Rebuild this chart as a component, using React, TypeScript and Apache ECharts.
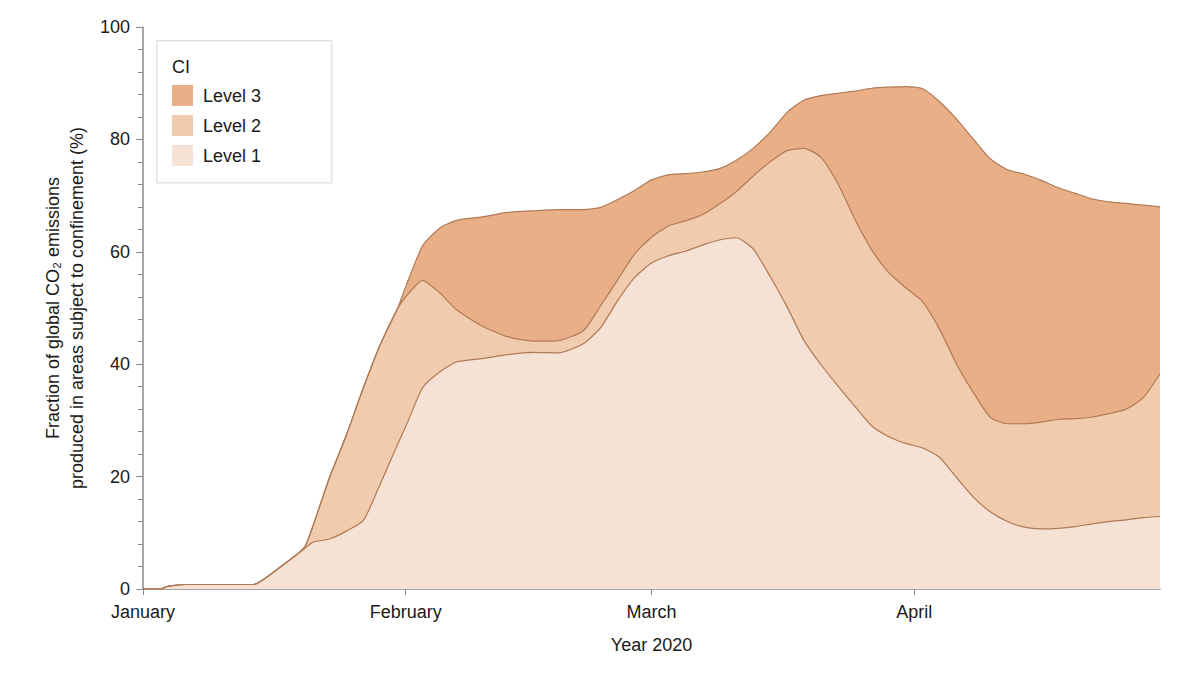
import React, { useEffect, useRef } from "react";
import * as echarts from "echarts";

// Sample dates (2020)
const dates: string[] = [
  "2020-01-01", "2020-01-03", "2020-01-04", "2020-01-06", "2020-01-14", "2020-01-17",
  "2020-01-20", "2020-01-21", "2020-01-23", "2020-01-25", "2020-01-27", "2020-01-29",
  "2020-01-31", "2020-02-01", "2020-02-03", "2020-02-05", "2020-02-07", "2020-02-10",
  "2020-02-13", "2020-02-16", "2020-02-19", "2020-02-22", "2020-02-24", "2020-02-26",
  "2020-02-28",
  "2020-03-01", "2020-03-03", "2020-03-05", "2020-03-07", "2020-03-09", "2020-03-11",
  "2020-03-13", "2020-03-15", "2020-03-17", "2020-03-19", "2020-03-21", "2020-03-23",
  "2020-03-25", "2020-03-27", "2020-03-29", "2020-03-31", "2020-04-02", "2020-04-04",
  "2020-04-06", "2020-04-08", "2020-04-10", "2020-04-12", "2020-04-14", "2020-04-16",
  "2020-04-18", "2020-04-20", "2020-04-22", "2020-04-24", "2020-04-26", "2020-04-28",
  "2020-04-30",
];

// Cumulative top of each confinement level (% of global CO2 emissions)
const level1Top: number[] = [
  0, 0, 0.5, 0.8, 0.8, 3.7, 7.1, 8.3, 8.9, 10.3,
  12.2, 18.7, 25.6, 28.9, 35.8, 38.6, 40.4, 41.0, 41.7, 42.1,
  42.0, 43.7, 46.5, 51.3, 55.4,
  58.0, 59.3, 60.1, 61.2, 62.1, 62.5, 60.5, 55.6, 50.2, 44.2,
  39.9, 36.1, 32.5, 29.0, 27.1, 25.9, 25.1, 23.4, 19.8, 16.3,
  13.7, 12.0, 11.0, 10.7, 10.8, 11.1, 11.6, 12.0, 12.3, 12.7,
  12.9,
];
const level2Top: number[] = [
  0, 0, 0.5, 0.8, 0.8, 3.7, 7.3, 11.0, 19.8, 27.4,
  35.8, 43.5, 49.8, 52.0, 54.9, 52.7, 49.7, 46.8, 44.9, 44.1,
  44.2, 46.0, 50.4, 55.0, 59.6,
  62.6, 64.6, 65.5, 66.6, 68.5, 70.7, 73.5, 76.0, 78.0, 78.4,
  76.8, 72.1, 65.8, 60.3, 56.3, 53.6, 51.1, 46.2, 40.0, 34.9,
  30.5, 29.4, 29.4, 29.7, 30.2, 30.3, 30.6, 31.2, 32.0, 34.0,
  38.3,
];
const level3Top: number[] = [
  0, 0, 0.5, 0.8, 0.8, 3.7, 7.3, 11.0, 19.8, 27.4,
  35.8, 43.5, 49.8, 53.8, 61.1, 64.2, 65.6, 66.2, 67.0, 67.3,
  67.5, 67.5, 67.9, 69.3, 70.9,
  72.8, 73.7, 73.9, 74.2, 74.8, 76.3, 78.4, 81.3, 84.8, 87.0,
  87.8, 88.2, 88.6, 89.1, 89.3, 89.4, 89.0, 86.7, 83.6, 80.0,
  76.5, 74.6, 73.8, 72.7, 71.4, 70.4, 69.4, 68.9, 68.6, 68.3,
  68.0,
];

const levelNames = ["Level 1", "Level 2", "Level 3"];
const levelColors = ["#F6E2D5", "#F1CBAD", "#E9B088"];
const legendTitle = "CI";
const monthTickDates = ["2020-01-01", "2020-02-01", "2020-03-01", "2020-04-01"];
const monthLabels = ["January", "February", "March", "April"];
const xMinDate = "2020-01-01";
const xMaxDate = "2020-04-30";
const xAxisTitle = "Year 2020";
const yAxisTitle = "Fraction of global CO\u2082 emissions\nproduced in areas subject to confinement (%)";

const DAY = 86400000;
const ts = (s: string) => {
  const [y, m, d] = s.split("-").map(Number);
  return Date.UTC(y, m - 1, d);
};
const dayOf = (s: string) => Math.round((ts(s) - ts(xMinDate)) / DAY);

const FONT = "'Liberation Sans', Arial, Helvetica, sans-serif";
const LINE = "#B07A55";
const AXIS = "#8a8a8a";
const TEXT = "#1a1a1a";

export default function App() {
  const ref = useRef<HTMLDivElement>(null);
  useEffect(() => {
    if (!ref.current) return;
    const chart = echarts.init(ref.current, undefined, { renderer: "svg" });
    const tops = [level1Top, level2Top, level3Top];
    const monthValues = monthTickDates.map(dayOf);
    // Draw from the outermost cumulative level to the innermost, each filled to 0
    const order = [2, 1, 0];

    chart.setOption({
      animation: false,
      textStyle: { fontFamily: FONT },
      grid: { left: 143, right: 40, top: 27, bottom: 91 },
      xAxis: {
        type: "value",
        min: dayOf(xMinDate),
        max: dayOf(xMaxDate),
        name: xAxisTitle,
        nameLocation: "middle",
        nameGap: 47,
        nameTextStyle: { fontSize: 18, color: TEXT, fontFamily: FONT },
        axisLine: { show: true, onZero: false, lineStyle: { color: AXIS, width: 1.5 } },
        axisTick: { show: true, length: 6, customValues: monthValues, lineStyle: { color: AXIS } },
        axisLabel: {
          customValues: monthValues,
          fontSize: 18,
          color: TEXT,
          fontFamily: FONT,
          margin: 14,
          formatter: (v: number) => {
            const idx = monthValues.indexOf(v);
            return idx >= 0 ? monthLabels[idx] : "";
          },
        },
        splitLine: { show: false },
      },
      yAxis: {
        type: "value",
        min: 0,
        max: 100,
        interval: 20,
        name: yAxisTitle,
        nameLocation: "middle",
        nameRotate: 90,
        nameGap: 54,
        nameTextStyle: { fontSize: 18, color: TEXT, fontFamily: FONT, lineHeight: 24 },
        axisLine: { show: true, lineStyle: { color: AXIS, width: 1.5 } },
        axisTick: { show: true, length: 7, lineStyle: { color: AXIS } },
        minorTick: { show: true, splitNumber: 5, length: 5, lineStyle: { color: AXIS } },
        axisLabel: { fontSize: 18, color: TEXT, fontFamily: FONT, margin: 13 },
        splitLine: { show: false },
      },
      legend: {
        left: 172,
        top: 85,
        orient: "vertical",
        padding: 0,
        itemWidth: 21,
        itemHeight: 21,
        itemGap: 9,
        icon: "rect",
        selectedMode: false,
        z: 10,
        itemStyle: { borderWidth: 0 },
        textStyle: { fontSize: 18, color: TEXT, fontFamily: FONT, padding: [0, 0, 0, 5] },
        data: [2, 1, 0].map((k) => ({
          name: levelNames[k],
          itemStyle: { color: levelColors[k], borderWidth: 0 },
        })),
      },
      graphic: [
        {
          type: "rect",
          left: 156,
          top: 40,
          shape: { width: 175, height: 142 },
          style: { fill: "#ffffff", stroke: "#e3e3e3", lineWidth: 1.5 },
          z: 3,
        },
        {
          type: "text",
          left: 172,
          top: 58,
          style: { text: legendTitle, fontSize: 18, fill: TEXT, fontFamily: FONT },
          z: 11,
        },
      ],
      series: order.map((k) => ({
        name: levelNames[k],
        type: "line",
        data: tops[k].map((v, i) => [dayOf(dates[i]), v]),
        symbol: "none",
        smooth: 0.2,
        color: levelColors[k],
        lineStyle: { color: LINE, width: 1.2 },
        areaStyle: { color: levelColors[k], opacity: 1 },
        z: 2,
      })),
    });
    return () => chart.dispose();
  }, []);

  return (
    <div
      ref={ref}
      style={{ position: "absolute", left: 0, top: 0, width: 1200, height: 680, background: "#fff" }}
    />
  );
}
